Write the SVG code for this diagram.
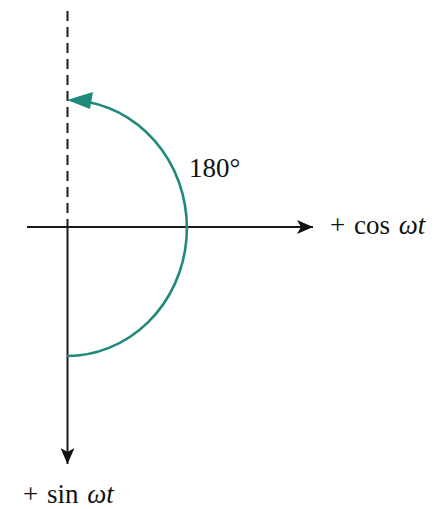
<svg xmlns="http://www.w3.org/2000/svg" width="436" height="509" viewBox="0 0 436 509">
<style>
.ax{stroke:#1a1a1a;stroke-width:2;fill:none}
.arc{stroke:#1f8a7c;stroke-width:2.6;fill:none}
.t{font-family:"Liberation Serif","Times New Roman",serif;font-size:27px;fill:#111;word-spacing:2px}
</style>
<defs>
<marker id="ah" markerWidth="18" markerHeight="14" refX="16" refY="7" orient="auto" markerUnits="userSpaceOnUse">
<path d="M0,0 L16,7 L0,14 L4,7 Z" fill="#111"/>
</marker>
</defs>
<rect width="436" height="509" fill="#fff"/>
<g id="connectors">
<line class="ax" x1="67.5" y1="11" x2="67.5" y2="227" stroke-dasharray="10,6"/>
<line class="ax" x1="27" y1="227" x2="313" y2="227" marker-end="url(#ah)"/>
<line class="ax" x1="67.5" y1="227" x2="67.5" y2="464" marker-end="url(#ah)"/>
</g>
<g id="arc">
<path class="arc" d="M67,356 A120,128 0 0 0 88,102"/>
<path d="M67,100 L93,92 L90,109 Z" fill="#1f8a7c"/>
</g>
<g id="labels">
<text class="t" x="189" y="177">180°</text>
<text class="t" x="330" y="234">+ cos <tspan font-style="italic">ωt</tspan></text>
<text class="t" x="23" y="503">+ sin <tspan font-style="italic">ωt</tspan></text>
</g>
</svg>
